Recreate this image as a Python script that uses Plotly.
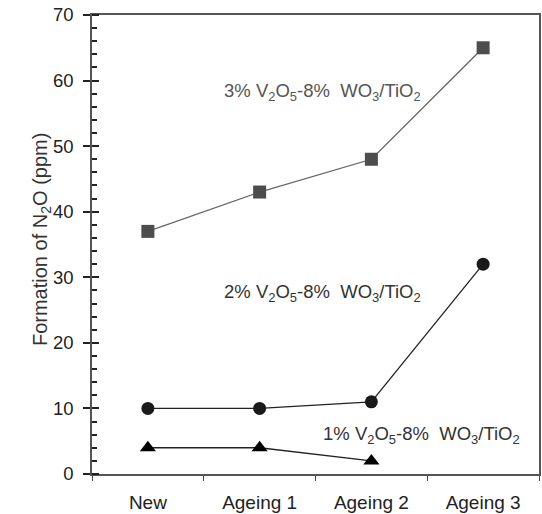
import plotly.graph_objects as go

categories = ["New", "Ageing 1", "Ageing 2", "Ageing 3"]
v3 = [37, 43, 48, 65]
v2 = [10, 10, 11, 32]
v1 = [4, 4, 2]

fig = go.Figure()
fig.add_trace(go.Scatter(x=categories, y=v3, mode="lines+markers",
                         line=dict(color="#666666", width=1.3),
                         marker=dict(symbol="square", size=13, color="#4d4d4d"),
                         showlegend=False))
fig.add_trace(go.Scatter(x=categories, y=v2, mode="lines+markers",
                         line=dict(color="#222222", width=1.3),
                         marker=dict(symbol="circle", size=13, color="#1a1a1a"),
                         showlegend=False))
fig.add_trace(go.Scatter(x=categories[:3], y=v1, mode="lines+markers",
                         line=dict(color="#222222", width=1.3),
                         marker=dict(symbol="triangle-up", size=14, color="#000000"),
                         showlegend=False))
# helper trace so the overlaid tick axis (inner half of major ticks) is drawn
fig.add_trace(go.Scatter(x=categories[:3], y=v1, mode="markers", yaxis="y2",
                         marker=dict(opacity=0), hoverinfo="skip",
                         showlegend=False))

fnt = "Liberation Sans, Arial, sans-serif"
lab = "% V<sub>2</sub>O<sub>5</sub>-8%  WO<sub>3</sub>/TiO<sub>2</sub>"
fig.add_annotation(x=1.56, y=58.3, text="3" + lab, showarrow=False,
                   font=dict(family=fnt, size=18.5, color="#555555"))
fig.add_annotation(x=1.56, y=27.6, text="2" + lab, showarrow=False,
                   font=dict(family=fnt, size=18.5, color="#333333"))
fig.add_annotation(x=2.45, y=5.9, text="1" + lab, showarrow=False,
                   font=dict(family=fnt, size=18.5, color="#333333"))
fig.add_annotation(xref="paper", yref="paper", x=-0.144, y=0.51,
                   text="Formation of N<sub>2</sub>O (ppm)", textangle=-90,
                   showarrow=False, font=dict(family=fnt, size=20, color="#333333"))

fig.update_layout(
    width=542, height=514,
    margin=dict(l=92, r=1, t=15, b=37),
    plot_bgcolor="white", paper_bgcolor="white",
    font=dict(family=fnt, color="#222222"),
    xaxis=dict(type="category", range=[-0.5, 3.5], tickson="boundaries",
               ticks="outside", ticklen=5, tickcolor="#444444", tickwidth=1.4,
               showline=True, linecolor="#555555", linewidth=1.6, mirror=True,
               showgrid=False, zeroline=False,
               tickfont=dict(size=19, color="#222222"), ticklabelstandoff=10),
    yaxis=dict(range=[0, 70], dtick=10, ticks="outside", ticklen=7,
               tickcolor="#222222", tickwidth=1.6,
               minor=dict(dtick=2, ticks="inside", ticklen=5, tickcolor="#222222",
                          tickwidth=1.6),
               showline=True, linecolor="#555555", linewidth=1.6, mirror=True,
               showgrid=False, zeroline=False,
               tickfont=dict(size=18.5, color="#222222"), ticklabelstandoff=6),
    yaxis2=dict(range=[0, 70], dtick=10, ticks="outside", ticklen=6,
                tickcolor="#222222", tickwidth=1.6,
                overlaying="y", anchor="free", position=0, side="right",
                showticklabels=False, showgrid=False,
                zeroline=False, showline=False),
)

fig.write_html("out.html")
